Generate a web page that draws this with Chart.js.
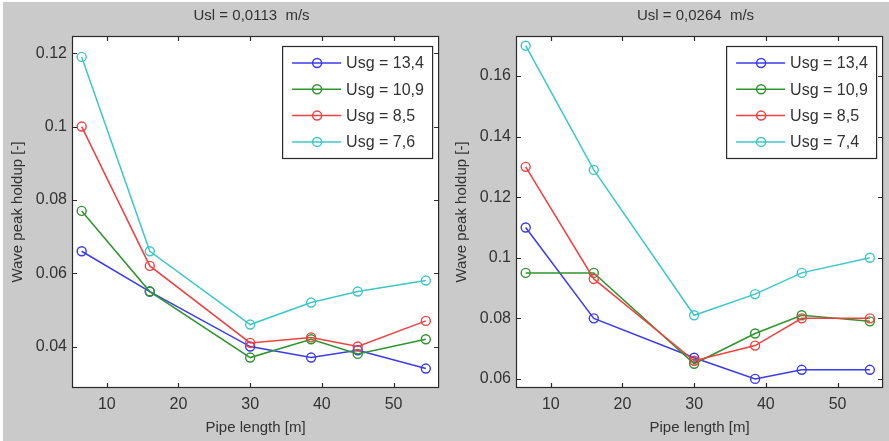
<!DOCTYPE html>
<html>
<head>
<meta charset="utf-8">
<script src="https://cdn.jsdelivr.net/npm/chart.js@4.4.0/dist/chart.umd.min.js"></script>
<style>
  body { margin: 0; background: #ffffff; }
  #fig { position: absolute; left: 3px; top: 2px; width: 886px; height: 439px; background: #cacaca; }
  canvas { position: absolute; top: 0; }
</style>
</head>
<body>
<div id="fig"></div>
<canvas id="left" width="445" height="441" style="left:0px"></canvas>
<canvas id="right" width="445" height="441" style="left:444px"></canvas>
<script>
// pipe positions of the measuring stations [m]
const pipeLength = [6.5, 16, 30, 38.5, 45, 54.5];
const xTicks = [10, 20, 30, 40, 50];

// Usl = 0,0113 m/s
const labelsLeft = ['Usg = 13,4', 'Usg = 10,9', 'Usg = 8,5', 'Usg = 7,6'];
const leftUsg134 = [0.066, 0.055, 0.040, 0.037, 0.039, 0.034];
const leftUsg109 = [0.077, 0.055, 0.037, 0.042, 0.038, 0.042];
const leftUsg85  = [0.100, 0.062, 0.041, 0.0425, 0.040, 0.047];
const leftUsg76  = [0.119, 0.066, 0.046, 0.052, 0.055, 0.058];
const yTicksLeft = [0.04, 0.06, 0.08, 0.1, 0.12];

// Usl = 0,0264 m/s
const labelsRight = ['Usg = 13,4', 'Usg = 10,9', 'Usg = 8,5', 'Usg = 7,4'];
const rightUsg134 = [0.110, 0.080, 0.067, 0.060, 0.063, 0.063];
const rightUsg109 = [0.095, 0.095, 0.065, 0.075, 0.081, 0.079];
const rightUsg85  = [0.130, 0.093, 0.066, 0.071, 0.080, 0.080];
const rightUsg74  = [0.170, 0.129, 0.081, 0.088, 0.095, 0.100];
const yTicksRight = [0.06, 0.08, 0.1, 0.12, 0.14, 0.16];

const lineColors = ['#3a3af0', '#2e952e', '#f04040', '#3cc8c8'];
const fontFamily = '"Liberation Sans", Arial, sans-serif';
const textColor = '#333333';

// draws the white axes box, the inward ticks, the title and the legend (matlab look)
const matlabAxes = {
  id: 'matlabAxes',
  beforeDraw(chart) {
    const { ctx, chartArea: a } = chart;
    ctx.save();
    ctx.fillStyle = '#ffffff';
    ctx.fillRect(a.left, a.top, a.right - a.left, a.bottom - a.top);
    ctx.restore();
  },
  afterDatasetsDraw(chart) {
    const { ctx, chartArea: a, scales: { x, y } } = chart;
    ctx.save();
    ctx.strokeStyle = '#2a2a2a';
    ctx.lineWidth = 1.2;
    ctx.strokeRect(a.left + 0.5, a.top + 0.5, a.right - a.left - 1, a.bottom - a.top - 1);
    ctx.beginPath();
    x.ticks.forEach(t => {
      const px = Math.round(x.getPixelForValue(t.value)) + 0.5;
      ctx.moveTo(px, a.bottom); ctx.lineTo(px, a.bottom - 5);
      ctx.moveTo(px, a.top); ctx.lineTo(px, a.top + 5);
    });
    y.ticks.forEach(t => {
      const py = Math.round(y.getPixelForValue(t.value)) + 0.5;
      ctx.moveTo(a.left, py); ctx.lineTo(a.left + 5, py);
      ctx.moveTo(a.right, py); ctx.lineTo(a.right - 5, py);
    });
    ctx.stroke();
    ctx.restore();
  },
  afterDraw(chart, args, opts) {
    const { ctx, chartArea: a } = chart;
    ctx.save();
    // title
    ctx.fillStyle = textColor;
    ctx.font = '15px ' + fontFamily;
    ctx.textAlign = 'center';
    ctx.textBaseline = 'middle';
    ctx.fillText(opts.title, (a.left + a.right) / 2 - 4, 16);

    // legend box
    const bx = a.right - 157, by = a.top + 10, bw = 150, bh = 112;
    ctx.fillStyle = '#ffffff';
    ctx.fillRect(bx, by, bw, bh);
    ctx.strokeStyle = '#2a2a2a';
    ctx.lineWidth = 1.2;
    ctx.strokeRect(bx + 0.5, by + 0.5, bw, bh);
    ctx.font = '16px ' + fontFamily;
    ctx.textAlign = 'left';
    chart.data.datasets.forEach((ds, i) => {
      const cy = by + 17 + i * 26.3;
      ctx.strokeStyle = ds.borderColor;
      ctx.lineWidth = 1.5;
      ctx.beginPath();
      ctx.moveTo(bx + 10, cy); ctx.lineTo(bx + 59, cy);
      ctx.stroke();
      ctx.beginPath();
      ctx.arc(bx + 35, cy, 4.5, 0, Math.PI * 2);
      ctx.stroke();
      ctx.fillStyle = textColor;
      ctx.fillText(ds.label, bx + 64, cy + 1);
    });
    ctx.restore();
  }
};

function makeChart(canvasId, title, labels, series, yTicks, yMin, yMax) {
  const datasets = series.map((values, i) => ({
    label: labels[i],
    data: values.map((v, k) => ({ x: pipeLength[k], y: v })),
    borderColor: lineColors[i],
    backgroundColor: 'rgba(0,0,0,0)',
    borderWidth: 1.5,
    pointRadius: 4.5,
    pointBorderWidth: 1.4,
    pointBackgroundColor: 'rgba(0,0,0,0)',
    pointBorderColor: lineColors[i],
    tension: 0,
    order: series.length - i,   // later series on top, like matlab
  }));

  return new Chart(document.getElementById(canvasId), {
    type: 'line',
    data: { datasets: datasets },
    plugins: [matlabAxes],
    options: {
      responsive: false,
      animation: false,
      layout: { padding: { left: 0, right: 1, top: 36, bottom: 0 } },
      scales: {
        x: {
          type: 'linear',
          min: 5.15,
          max: 56.35,
          afterBuildTicks: s => { s.ticks = xTicks.map(v => ({ value: v })); },
          afterFit: s => { s.height = 53; },
          grid: { display: false, drawTicks: false },
          border: { display: false },
          ticks: { padding: 7, color: textColor, font: { family: fontFamily, size: 16 } },
          title: {
            display: true, text: 'Pipe length [m]', color: textColor,
            font: { family: fontFamily, size: 15 }, padding: { top: 0, bottom: 4 }
          }
        },
        y: {
          type: 'linear',
          min: yMin,
          max: yMax,
          afterBuildTicks: s => { s.ticks = yTicks.map(v => ({ value: v })); },
          afterFit: s => { s.width = 72; },
          grid: { display: false, drawTicks: false },
          border: { display: false },
          ticks: {
            padding: 5, color: textColor, font: { family: fontFamily, size: 16 },
            callback: v => String(v)
          },
          title: {
            display: true, text: 'Wave peak holdup [-]', color: textColor,
            font: { family: fontFamily, size: 15 }, padding: { top: 9, bottom: 0 }
          }
        }
      },
      plugins: {
        legend: { display: false },
        tooltip: { enabled: false },
        matlabAxes: { title: title }
      }
    }
  });
}

makeChart('left', 'Usl = 0,0113  m/s', labelsLeft,
  [leftUsg134, leftUsg109, leftUsg85, leftUsg76], yTicksLeft, 0.0287, 0.1247);
makeChart('right', 'Usl = 0,0264  m/s', labelsRight,
  [rightUsg134, rightUsg109, rightUsg85, rightUsg74], yTicksRight, 0.057, 0.1732);
</script>
</body>
</html>
